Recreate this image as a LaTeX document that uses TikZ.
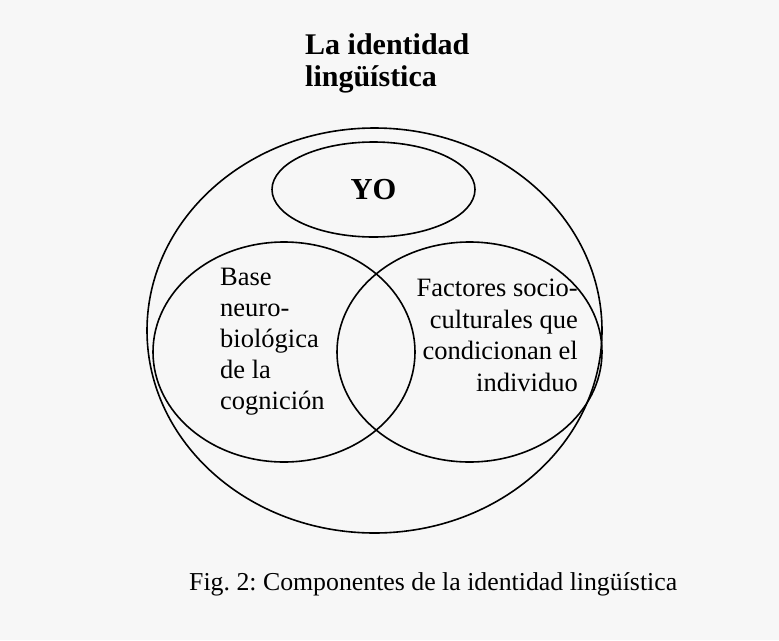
\documentclass[tikz,border=0pt]{standalone}
\usepackage{fontspec}
\setmainfont{Liberation Serif}
\usetikzlibrary{shapes.geometric}
\frenchspacing

\begin{document}
\begin{tikzpicture}[x=1pt, y=-1pt, ring/.style={draw,ellipse,line width=1.6pt,inner sep=0pt}, txt/.style={inner sep=0pt,font=\fontsize{26.5}{31}\selectfont}]
\fill[black!3] (0,0) rectangle (779,640);

\node(titulo)[anchor=north west,inner sep=0pt,align=left,font=\fontsize{30}{32}\selectfont\bfseries] at (305,33.3){La identidad\\lingüística};

\node(identidad)[ring,minimum width=455pt,minimum height=405pt] at (374.5,330.5){};
\node(yo)[ring,minimum width=203pt,minimum height=95pt,font=\fontsize{30.5}{32}\selectfont\bfseries] at (373.5,189.5){YO};
\node(neuro)[ring,minimum width=262pt,minimum height=220pt] at (284,352){};
\node(social)[ring,minimum width=265pt,minimum height=220pt] at (469.5,352){};

\node(base)[txt,anchor=north west,align=left] at (220,267.5){Base\\neuro-\\biológica\\de la\\cognición};
\node(factores)[txt,anchor=north east,align=right,font=\fontsize{26.5}{31.5}\selectfont] at (578,279){Factores socio-\\culturales que\\condicionan el\\individuo};

\node(pie)[txt,anchor=base west,font=\fontsize{25.8}{31}\selectfont] at (189,590){Fig. 2: Componentes de la identidad lingüística};
\end{tikzpicture}
\end{document}
